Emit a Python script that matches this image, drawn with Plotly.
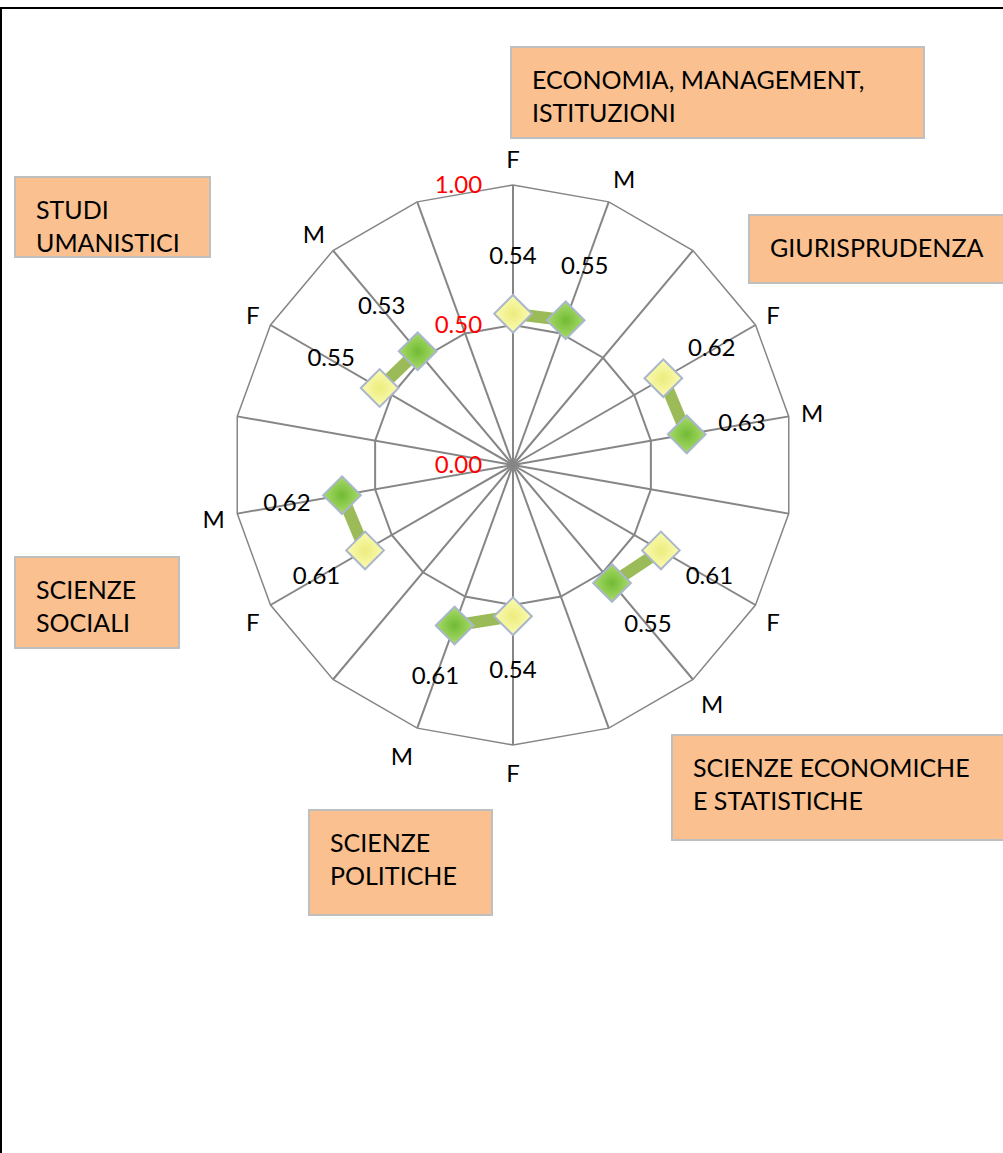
import plotly.graph_objects as go

# ---- data ----
groups = ["ECONOMIA, MANAGEMENT,<br>ISTITUZIONI", "GIURISPRUDENZA",
          "SCIENZE ECONOMICHE<br>E STATISTICHE", "SCIENZE<br>POLITICHE",
          "SCIENZE<br>SOCIALI", "STUDI<br>UMANISTICI"]
f_values = [0.54, 0.62, 0.61, 0.54, 0.61, 0.55]
m_values = [0.55, 0.63, 0.55, 0.61, 0.62, 0.53]
slot_labels = ["F", "M", ""]
radial_ticks = [0.0, 0.5, 1.0]

W, H = 1003, 1153

# unique category ids for the 18 spokes, shown with F / M / blank labels
cats = [f"{s or '-'}{g}" for g in range(len(groups)) for s in slot_labels]
cat_text = [s for g in range(len(groups)) for s in slot_labels]

r_line, th_line = [], []
for g in range(len(groups)):
    r_line += [f_values[g], m_values[g], None]
    th_line += [cats[3 * g], cats[3 * g + 1], cats[3 * g + 2]]

theta_f = [cats[3 * g] for g in range(len(groups))]
theta_m = [cats[3 * g + 1] for g in range(len(groups))]

FONT = "Lato"
FS = 24
fig = go.Figure()

fig.add_trace(go.Scatterpolar(r=r_line, theta=th_line, mode="lines",
                              line=dict(color="#9BBB59", width=12),
                              connectgaps=False, showlegend=False, hoverinfo="skip"))
fig.add_trace(go.Scatterpolar(r=f_values, theta=theta_f, mode="markers",
                              marker=dict(symbol="diamond", size=29, color="#FBFBB4",
                                          line=dict(color="#A9B6CB", width=2),
                                          gradient=dict(type="radial", color="#ECEC7E")),
                              showlegend=False))
fig.add_trace(go.Scatterpolar(r=m_values, theta=theta_m, mode="markers",
                              marker=dict(symbol="diamond", size=29, color="#A8DC6A",
                                          line=dict(color="#A9B6CB", width=2),
                                          gradient=dict(type="radial", color="#72BA34")),
                              showlegend=False))
off = 0.2
fig.add_trace(go.Scatterpolar(r=[v + off for v in f_values] + [v + off for v in m_values],
                              theta=theta_f + theta_m, mode="text",
                              text=[f"{v:.2f}" for v in f_values] + [f"{v:.2f}" for v in m_values],
                              textfont=dict(family=FONT, size=FS, color="black"),
                              showlegend=False, hoverinfo="skip"))

cx, cy, R = 513, 465, 280
fig.update_layout(
    width=W, height=H, margin=dict(l=0, r=0, t=0, b=0),
    paper_bgcolor="white", plot_bgcolor="white",
    font=dict(family=FONT, size=FS, color="black"),
    polar=dict(
        domain=dict(x=[(cx - R) / W, (cx + R) / W], y=[(H - cy - R) / H, (H - cy + R) / H]),
        gridshape="linear", bgcolor="white",
        radialaxis=dict(range=[0, 1], tickvals=radial_ticks,
                        ticktext=[f"{v:.2f}" for v in radial_ticks],
                        tickfont=dict(family=FONT, size=FS, color="red"),
                        showline=False, ticks="outside", ticklen=22,
                        tickcolor="rgba(0,0,0,0)", angle=90, tickangle=90,
                        side="counterclockwise",
                        gridcolor="#868686", gridwidth=1.5),
        angularaxis=dict(type="category", categoryorder="array", categoryarray=cats,
                         rotation=90, direction="clockwise", tickmode="array",
                         tickvals=cats, ticktext=cat_text,
                         ticks="outside", ticklen=7, tickcolor="rgba(0,0,0,0)",
                         tickfont=dict(family=FONT, size=FS, color="black"),
                         showline=True, linecolor="#868686", linewidth=1.5,
                         gridcolor="#868686", gridwidth=1.5),
    ),
)

boxes = [  # x0, y0, x1, y1 in pixels
    (511, 47, 924, 138),
    (749, 215, 1010, 283),
    (672, 735, 1010, 840),
    (309, 810, 492, 915),
    (15, 557, 179, 648),
    (15, 177, 210, 257),
]
for (x0, y0, x1, y1), label in zip(boxes, groups):
    fig.add_shape(type="rect", xref="paper", yref="paper",
                  x0=x0 / W, x1=x1 / W, y0=1 - y0 / H, y1=1 - y1 / H,
                  fillcolor="#FAC090", line=dict(color="#BFBFBF", width=2), layer="below")
    fig.add_annotation(xref="paper", yref="paper", x=(x0 + 19) / W, y=1 - (y0 + 15) / H,
                       xanchor="left", yanchor="top", align="left", showarrow=False,
                       text=label, font=dict(family=FONT, size=25, color="black"))

fig.add_shape(type="line", xref="paper", yref="paper", x0=0, x1=1, y0=1 - 8 / H, y1=1 - 8 / H,
              line=dict(color="black", width=2))
fig.add_shape(type="line", xref="paper", yref="paper", x0=1 / W, x1=1 / W, y0=0, y1=1 - 8 / H,
              line=dict(color="black", width=2))

fig.write_html("out.html", config={"displayModeBar": False},
               post_script="document.body.style.margin='0';document.body.style.overflow='hidden';")
